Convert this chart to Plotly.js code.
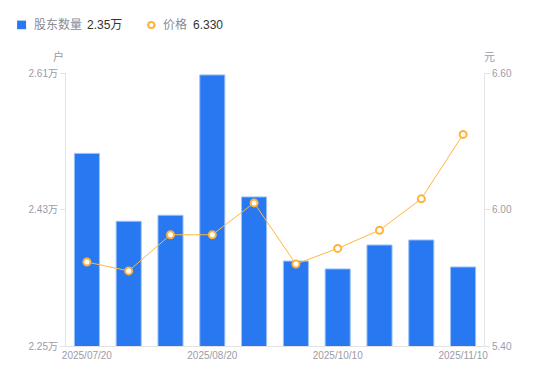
<!DOCTYPE html>
<html><head><meta charset="utf-8">
<script src="https://cdn.plot.ly/plotly-3.0.1.min.js"></script>
<style>html,body{margin:0;padding:0;background:#fff}#c{width:550px;height:381px}</style>
</head><body><div id="c"></div>
<script>
const dates = ['2025/07/20','2025/07/31','2025/08/10','2025/08/20','2025/08/31','2025/09/30','2025/10/10','2025/10/20','2025/10/31','2025/11/10'];
const holders = [2.504, 2.4145, 2.4224, 2.6075, 2.4466, 2.362, 2.3516, 2.3832, 2.3898, 2.3542];
const prices = [5.769, 5.730, 5.889, 5.889, 6.029, 5.760, 5.829, 5.909, 6.047, 6.330];
const shownTicks = ['2025/07/20','2025/08/20','2025/10/10','2025/11/10'];
const leftTicks = [2.25, 2.43, 2.61];
const leftTickText = ['2.25万', '2.43万', '2.61万'];
const rightTicks = [5.40, 6.00, 6.60];
const rightTickText = ['5.40', '6.00', '6.60'];

const FONT = 'Liberation Sans, Arial, Noto Sans CJK SC, sans-serif';
const tickFont = {family: FONT, size: 10, color: '#9a9ba8'};
const axisColor = '#e3e3e6';
const LY = 1 + (73 - 25) / 273;

const traces = [
  {type:'bar', x: dates, y: holders, width: 0.6, name:'股东数量',
   marker:{color:'#2878f2', line:{color:'#9cc2f8', width:1}}, hoverinfo:'x+y'},
  {type:'scatter', mode:'lines+markers', x: dates, y: prices, yaxis:'y2', name:'价格',
   line:{color:'#ffb740', width:1},
   marker:{symbol:'circle', size:7, color:'#ffffff', line:{color:'#ffb33a', width:2}}}
];

const layout = {
  width:550, height:381,
  margin:{l:65.7, r:65.7, t:73, b:35, pad:0},
  paper_bgcolor:'#fff', plot_bgcolor:'#fff',
  showlegend:false,
  font:{family: FONT},
  xaxis:{type:'category', range:[-0.5, 9.5], tickmode:'array', tickvals: shownTicks, ticktext: shownTicks,
    showline:true, linecolor:axisColor, linewidth:1, showgrid:false, zeroline:false,
    ticks:'', tickfont: tickFont},
  yaxis:{range:[2.25, 2.61], tickmode:'array', tickvals: leftTicks, ticktext: leftTickText,
    showline:true, linecolor:axisColor, linewidth:1, showgrid:false, zeroline:false,
    ticks:'outside', ticklen:5, tickcolor:axisColor, tickfont: tickFont},
  yaxis2:{range:[5.40, 6.60], overlaying:'y', side:'right', tickmode:'array', tickvals: rightTicks, ticktext: rightTickText,
    showline:true, linecolor:axisColor, linewidth:1, showgrid:false, zeroline:false,
    ticks:'outside', ticklen:5, tickcolor:axisColor, tickfont: tickFont},
  shapes:[
    {type:'rect', xref:'paper', yref:'paper', x0:-0.117, x1:-0.0955, y0:1+(73-29.2)/273, y1:1+(73-20.6)/273,
     fillcolor:'#2878f2', line:{width:0}, layer:'above'},
    {type:'line', xref:'paper', yref:'paper', x0:(146.7-65.7)/418.6, x1:(155.5-65.7)/418.6, y0:LY, y1:LY,
     line:{color:'#ffb740', width:1.5}},
    {type:'circle', xref:'paper', yref:'paper', x0:(148-65.7)/418.6, x1:(154.2-65.7)/418.6, y0:LY-3.1/273, y1:LY+3.1/273,
     fillcolor:'#ffffff', line:{color:'#ffb33a', width:2}}
  ],
  annotations:[
    {xref:'paper', yref:'paper', x:(31.5-65.7)/418.6, y:LY, xanchor:'left', yanchor:'middle', showarrow:false,
     text:'股东数量', font:{family:FONT, size:12, color:'#8a8b96'}},
    {xref:'paper', yref:'paper', x:(84.5-65.7)/418.6, y:LY, xanchor:'left', yanchor:'middle', showarrow:false,
     text:'2.35万', font:{family:FONT, size:12, color:'#333333'}},
    {xref:'paper', yref:'paper', x:(160.5-65.7)/418.6, y:LY, xanchor:'left', yanchor:'middle', showarrow:false,
     text:'价格', font:{family:FONT, size:12, color:'#8a8b96'}},
    {xref:'paper', yref:'paper', x:(190.5-65.7)/418.6, y:LY, xanchor:'left', yanchor:'middle', showarrow:false,
     text:'6.330', font:{family:FONT, size:12, color:'#333333'}},
    {xref:'paper', yref:'paper', x:(58.5-65.7)/418.6, y:1+(73-56.5)/273, xanchor:'center', yanchor:'middle', showarrow:false,
     text:'户', font:{family:FONT, size:11, color:'#9a9ba8'}},
    {xref:'paper', yref:'paper', x:(490-65.7)/418.6, y:1+(73-57)/273, xanchor:'center', yanchor:'middle', showarrow:false,
     text:'元', font:{family:FONT, size:11, color:'#9a9ba8'}}
  ]
};

Plotly.newPlot('c', traces, layout, {displayModeBar:false, staticPlot:true});
</script></body></html>
